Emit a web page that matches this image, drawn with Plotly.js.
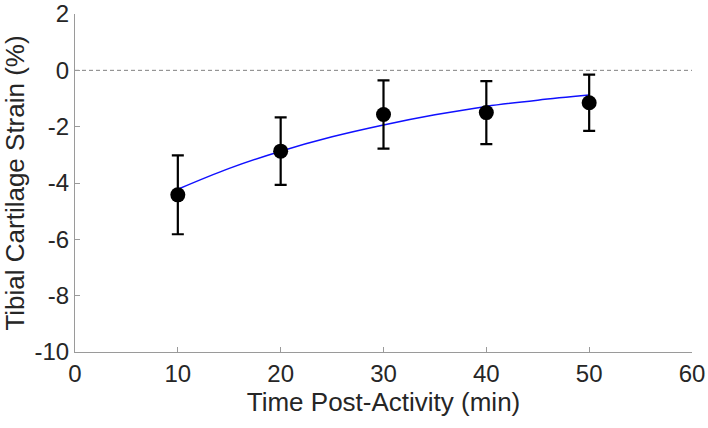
<!DOCTYPE html>
<html>
<head>
<meta charset="utf-8">
<script src="https://cdn.plot.ly/plotly-3.0.1.min.js"></script>
<style>html,body{margin:0;padding:0;background:#fff;}#chart{width:708px;height:428px;}</style>
</head>
<body>
<div id="chart"></div>
<script>
// Measured data (time in min, strain in %)
const timeMin = [10, 20, 30, 40, 50];
const strainMean = [-4.42, -2.87, -1.57, -1.50, -1.15];
const strainErr = [1.40, 1.20, 1.21, 1.12, 1.00];

// Fitted curve
const fitTime = [10, 15, 20, 25, 30, 35, 40, 45, 50];
const fitStrain = [-4.22, -3.48, -2.87, -2.36, -1.94, -1.58, -1.28, -1.06, -0.88];

// Zero reference line
const zeroX = [0, 60];
const zeroY = [0, 0];

const xTicks = [0, 10, 20, 30, 40, 50, 60];
const yTicks = [2, 0, -2, -4, -6, -8, -10];

const textColor = '#262626';
const axisColor = '#9a9a9a';

const traces = [
  {x: zeroX, y: zeroY, mode: 'lines', line: {color: '#808080', width: 1, dash: '4px,3px'}, hoverinfo: 'skip'},
  {x: fitTime, y: fitStrain, mode: 'lines', line: {color: '#1010ff', width: 1.5, shape: 'spline'}},
  {x: timeMin, y: strainMean, mode: 'markers',
   marker: {color: '#000', size: 15},
   error_y: {type: 'data', array: strainErr, visible: true, color: '#000', thickness: 2.2, width: 6}}
];

const layout = {
  width: 708, height: 428,
  margin: {l: 75, r: 16, t: 14, b: 76},
  paper_bgcolor: '#fff', plot_bgcolor: '#fff',
  showlegend: false,
  font: {family: 'Liberation Sans, Arial, sans-serif', color: textColor, size: 24},
  xaxis: {
    range: [0, 60], tickvals: xTicks, ticktext: xTicks.map(String),
    showgrid: false, zeroline: false, showline: true, linecolor: axisColor, linewidth: 1,
    ticks: 'inside', ticklen: 5, tickcolor: axisColor, tickwidth: 1,
    tickfont: {size: 24, color: textColor}, ticklabeloverflow: 'allow',
    title: {text: 'Time Post-Activity (min)', font: {size: 26, color: textColor}, standoff: 6}
  },
  yaxis: {
    range: [-10, 2], tickvals: yTicks, ticktext: yTicks.map(String),
    showgrid: false, zeroline: false, showline: true, linecolor: axisColor, linewidth: 1,
    ticks: 'inside', ticklen: 5, tickcolor: axisColor, tickwidth: 1,
    tickfont: {size: 24, color: textColor}, ticklabeloverflow: 'allow',
    title: {text: 'Tibial Cartilage Strain (%)', font: {size: 26, color: textColor}, standoff: 4}
  }
};

Plotly.newPlot('chart', traces, layout, {displayModeBar: false, staticPlot: true});
</script>
</body>
</html>
